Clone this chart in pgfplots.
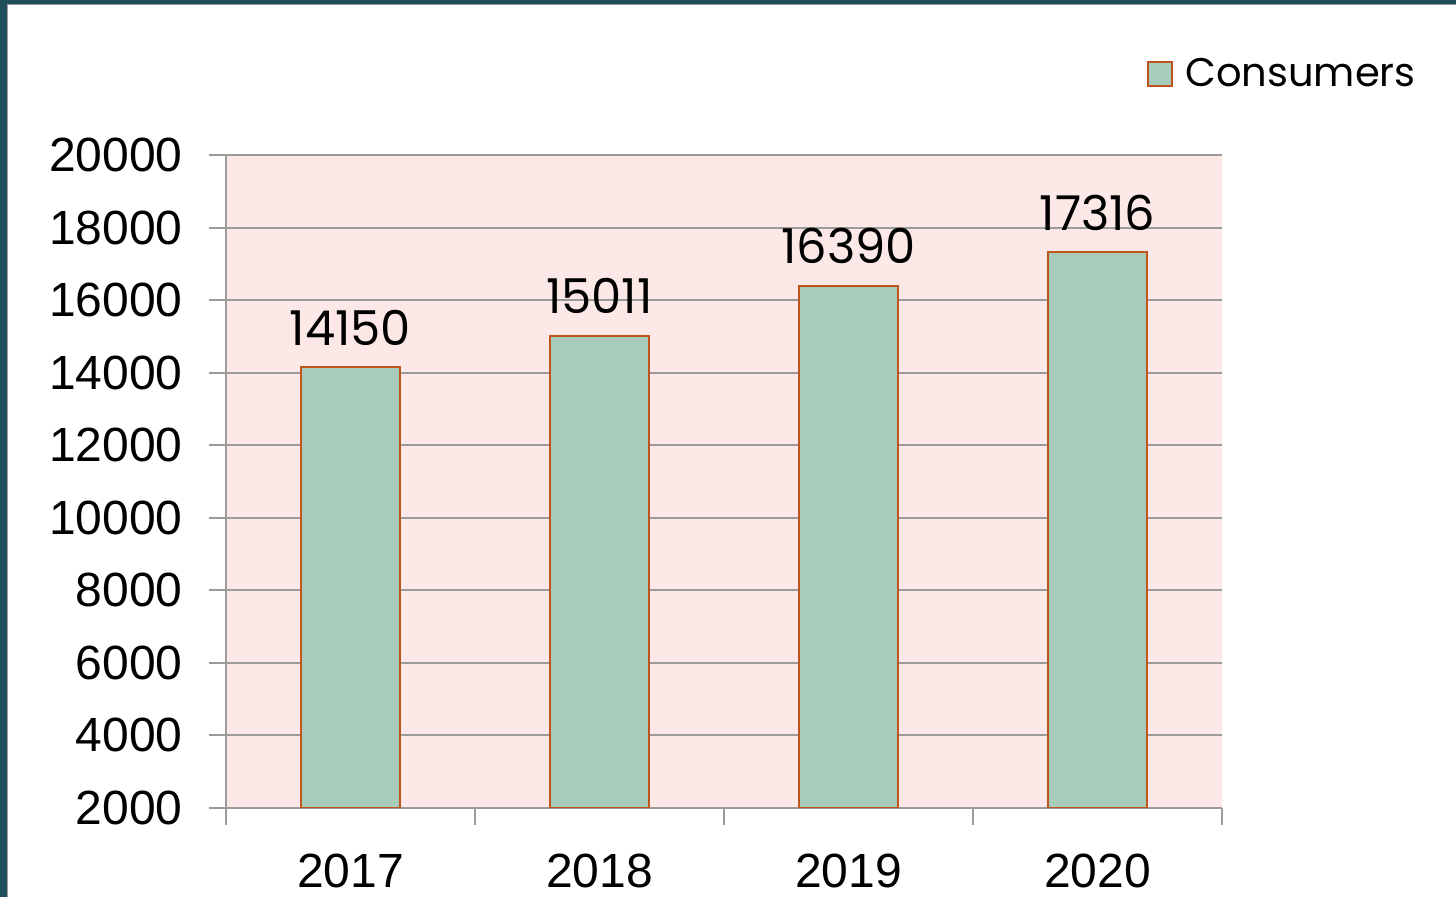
\documentclass[border=0pt]{standalone}
\usepackage{fontspec}
\setmainfont{Liberation Sans}
\newfontfamily\cg{Poppins}
\usepackage{pgfplots}
\pgfplotsset{compat=1.18}
\definecolor{frameteal}{RGB}{31,80,89}
\definecolor{bgpink}{RGB}{252,233,231}
\definecolor{barfill}{RGB}{167,205,186}
\definecolor{barline}{RGB}{190,84,30}
\definecolor{gridgray}{RGB}{155,155,155}
\begin{document}
\begin{tikzpicture}
\useasboundingbox (0,0) rectangle (728pt,448.5pt);
\fill[white] (0,0) rectangle (728pt,448.5pt);
\fill[frameteal] (0,0) rectangle (3.5pt,448.5pt);
\fill[frameteal] (0,446.5pt) rectangle (728pt,448.5pt);
\draw[gridgray,line width=0.6pt] (3.8pt,0) -- (3.8pt,446.2pt) -- (728pt,446.2pt);
\begin{axis}[
  at={(113pt,44.5pt)}, anchor=south west,
  scale only axis, width=498pt, height=326.5pt,
  xmin=-0.5, xmax=3.5, ymin=2000, ymax=20000,
  ytick={2000,4000,...,20000},
  scaled y ticks=false,
  xtick={0,1,2,3}, xticklabels={2017,2018,2019,2020},
  /pgf/number format/assume math mode=true,
  /pgf/number format/1000 sep={},
  axis x line*=bottom, axis y line*=left,
  axis line style={gridgray,line width=1pt,-},
  axis background/.style={fill=bgpink},
  ymajorgrids, major grid style={gridgray,line width=1pt},
  tick style={gridgray,line width=1pt},
  major tick length=8.5pt,
  tick align=outside,
  xtick style={draw=none},
  extra x ticks={-0.5,0.5,1.5,2.5,3.5},
  extra x tick labels={},
  extra x tick style={grid=none, tick align=outside, xtick style={draw=gridgray,line width=1pt}},
  tick label style={font=\fontsize{24}{24}\selectfont, text=black, inner sep=0pt},
  yticklabel style={anchor=east, xshift=-13pt},
  xticklabel style={anchor=base, yshift=-31.5pt},
  ybar, bar width=0.4,
  nodes near coords={\pgfmathprintnumber[1000 sep={}]{\pgfplotspointmeta}},
  every node near coord/.append style={font=\cg\fontsize{24}{24}\selectfont, text=black, anchor=base, inner sep=0pt, yshift=11pt},
  legend style={at={(1.207,1.155)}, anchor=north east, draw=none, fill=none,
    font=\cg\fontsize{20}{20}\selectfont, inner sep=0pt,
    legend cell align=left, nodes={inner xsep=6pt}},
  legend image code/.code={\draw[#1] (0pt,-6pt) rectangle (12pt,6pt);},
]
\addplot[fill=barfill, draw=barline, line width=1pt] coordinates {(0,14150) (1,15011) (2,16390) (3,17316)};
\addlegendentry{Consumers}
\end{axis}
\end{tikzpicture}
\end{document}
